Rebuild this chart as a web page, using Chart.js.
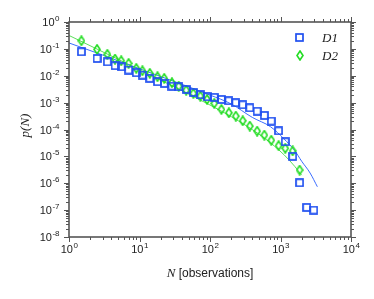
<!DOCTYPE html>
<html>
<head>
<meta charset="utf-8">
<script src="https://cdn.jsdelivr.net/npm/chart.js@4.4.1/dist/chart.umd.min.js"></script>
<style>
  html, body { margin: 0; padding: 0; background: #ffffff; }
  #wrap { width: 374px; height: 299px; }
</style>
</head>
<body>
<div id="wrap"><canvas id="chart" width="374" height="299"></canvas></div>
<script>
// binned observation counts (log bins)
const binN = [1.5, 2.5, 3.5, 4.5, 5.5, 7, 9, 11, 14, 18, 22.4, 28.8, 36, 46, 58, 73, 91, 115,
  145, 185, 232, 291, 367, 467, 590, 740, 940, 1170, 1486, 1865, 2350, 2960];

const d1P = [0.078, 0.044, 0.033, 0.0236, 0.0216, 0.0163, 0.0129, 0.0106, 0.008, 0.006,
  0.0052, 0.0041, 0.0039, 0.0031, 0.0024, 0.00196, 0.00165, 0.00157, 0.00132, 0.00117,
  0.00099, 0.00083, 0.00064, 0.00048, 0.000335, 0.000206, 8.9e-5, 3.5e-5, 1.0e-5,
  1.04e-6, 1.26e-7, 1.0e-7];

const d2P = [0.2, 0.096, 0.063, 0.042, 0.036, 0.029, 0.0189, 0.0153, 0.0123, 0.0092,
  0.008, 0.0055, 0.0041, 0.0029, 0.0022, 0.00175, 0.00132, 0.00094, 0.00056, 0.00042,
  0.000315, 0.000211, 0.000134, 8.7e-5, 6.2e-5, 4.0e-5, 2.5e-5, 2.0e-5, 1.6e-5, 3.1e-6];

// fitted curves
const fit1N = [1, 3.16, 10, 31.6, 100, 200, 398, 724, 1122, 1585, 1995, 2630, 3334];
const fit1P = [0.166, 0.0562, 0.0182, 0.00603, 0.00191, 0.000891, 0.000282, 0.000126,
  4.47e-5, 1.66e-5, 6.6e-6, 2.4e-6, 7.4e-7];

const fit2N = [1, 3.16, 10, 31.6, 100, 200, 398, 708, 1122, 1585, 1995];
const fit2P = [0.316, 0.073, 0.0168, 0.00379, 0.000813, 0.000301, 9.93e-5, 3.33e-5,
  1.15e-5, 4.3e-6, 2.0e-6];

const xExponents = [0, 1, 2, 3, 4];
const yExponents = [0, -1, -2, -3, -4, -5, -6, -7, -8];
const legendLabels = ["D1", "D2"];

const COLORS = {
  blue: "#1f4ff0",
  green: "#22dd22",
  blueLine: "#3a6cff",
  greenLine: "#5ade5a",
  frame: "#555555",
  text: "#222222"
};

function toPoints(xs, ys) {
  return ys.map(function (y, i) {
    return { x: xs[i], y: y };
  });
}

function makeSquare() {
  const c = document.createElement("canvas");
  c.width = 9;
  c.height = 9;
  const g = c.getContext("2d");
  g.strokeStyle = COLORS.blue;
  g.lineWidth = 1.7;
  g.strokeRect(1, 1, 7, 7);
  return c;
}

function makeDiamond() {
  const c = document.createElement("canvas");
  c.width = 8;
  c.height = 11;
  const g = c.getContext("2d");
  g.strokeStyle = COLORS.green;
  g.lineWidth = 1.6;
  g.beginPath();
  g.moveTo(4, 1);
  g.lineTo(7, 5.5);
  g.lineTo(4, 10);
  g.lineTo(1, 5.5);
  g.closePath();
  g.stroke();
  return c;
}

const squareMarker = makeSquare();
const diamondMarker = makeDiamond();

function minorValues(fromExp, toExp) {
  const vals = [];
  for (let k = fromExp; k < toExp; k++) {
    for (let m = 2; m <= 9; m++) {
      vals.push(m * Math.pow(10, k));
    }
  }
  return vals;
}

function drawPowerLabel(ctx, exp, x, y, align) {
  const base = "10";
  const sup = String(exp);
  ctx.font = "11px 'Liberation Sans', Arial, sans-serif";
  const wb = ctx.measureText(base).width;
  ctx.font = "8px 'Liberation Sans', Arial, sans-serif";
  const ws = ctx.measureText(sup).width;
  let left;
  if (align === "center") {
    left = x - (wb + ws) / 2;
  } else {
    left = x - (wb + ws);
  }
  ctx.textAlign = "left";
  ctx.textBaseline = "alphabetic";
  ctx.font = "11px 'Liberation Sans', Arial, sans-serif";
  ctx.fillText(base, left, y);
  ctx.font = "8px 'Liberation Sans', Arial, sans-serif";
  ctx.fillText(sup, left + wb + 0.5, y - 5);
}

const framePlugin = {
  id: "frame",
  afterDatasetsDraw: function (chart) {
    const ctx = chart.ctx;
    const area = chart.chartArea;
    const xs = chart.scales.x;
    const ys = chart.scales.y;

    ctx.save();
    ctx.strokeStyle = COLORS.frame;
    ctx.lineWidth = 1;

    // ticks on all four sides, pointing outward
    function tickX(v, len) {
      const px = Math.round(xs.getPixelForValue(v)) + 0.5;
      ctx.beginPath();
      ctx.moveTo(px, area.bottom);
      ctx.lineTo(px, area.bottom + len);
      ctx.moveTo(px, area.top);
      ctx.lineTo(px, area.top - len);
      ctx.stroke();
    }
    function tickY(v, len) {
      const py = Math.round(ys.getPixelForValue(v)) + 0.5;
      ctx.beginPath();
      ctx.moveTo(area.left, py);
      ctx.lineTo(area.left - len, py);
      ctx.moveTo(area.right, py);
      ctx.lineTo(area.right + len, py);
      ctx.stroke();
    }
    minorValues(0, 4).forEach(function (v) { tickX(v, 3); });
    xExponents.forEach(function (e) { tickX(Math.pow(10, e), 5); });
    minorValues(-8, 0).forEach(function (v) { tickY(v, 3); });
    yExponents.forEach(function (e) { tickY(Math.pow(10, e), 5); });

    // frame
    ctx.lineWidth = 1.6;
    ctx.strokeRect(area.left, area.top, area.right - area.left, area.bottom - area.top);

    // tick labels
    ctx.fillStyle = COLORS.text;
    xExponents.forEach(function (e) {
      drawPowerLabel(ctx, e, xs.getPixelForValue(Math.pow(10, e)), area.bottom + 16, "center");
    });
    yExponents.forEach(function (e) {
      drawPowerLabel(ctx, e, area.left - 10, ys.getPixelForValue(Math.pow(10, e)) + 4, "right");
    });

    // x axis title: italic N + [observations]
    ctx.textAlign = "left";
    ctx.font = "italic 13px 'Liberation Serif', 'Times New Roman', serif";
    const nW = ctx.measureText("N").width;
    ctx.font = "12px 'Liberation Sans', Arial, sans-serif";
    const oW = ctx.measureText(" [observations]").width;
    const titleLeft = (area.left + area.right) / 2 - (nW + oW) / 2;
    ctx.font = "italic 13px 'Liberation Serif', 'Times New Roman', serif";
    ctx.fillText("N", titleLeft, 277);
    ctx.font = "12px 'Liberation Sans', Arial, sans-serif";
    ctx.fillText(" [observations]", titleLeft + nW, 277);

    // y axis title
    ctx.save();
    ctx.translate(29, (area.top + area.bottom) / 2 - 4);
    ctx.rotate(-Math.PI / 2);
    ctx.textAlign = "center";
    ctx.font = "italic 13px 'Liberation Serif', 'Times New Roman', serif";
    ctx.fillText("p(N)", 0, 0);
    ctx.restore();

    // legend
    const markers = [squareMarker, diamondMarker];
    legendLabels.forEach(function (label, i) {
      const cy = 37.5 + i * 17.5;
      const m = markers[i];
      ctx.drawImage(m, Math.round(299.5 - m.width / 2), Math.round(cy - m.height / 2));
      ctx.font = "italic 13px 'Liberation Serif', 'Times New Roman', serif";
      ctx.textAlign = "left";
      ctx.fillStyle = COLORS.text;
      ctx.fillText(label, 322, cy + 4.5);
    });

    ctx.restore();
  }
};

new Chart(document.getElementById("chart"), {
  type: "scatter",
  data: {
    datasets: [
      {
        label: legendLabels[0],
        data: toPoints(binN, d1P),
        pointStyle: squareMarker,
        order: 1
      },
      {
        label: legendLabels[1],
        data: toPoints(binN, d2P),
        pointStyle: diamondMarker,
        order: 1
      },
      {
        label: "fit D1",
        data: toPoints(fit1N, fit1P),
        showLine: true,
        pointRadius: 0,
        borderColor: COLORS.blueLine,
        borderWidth: 1,
        cubicInterpolationMode: "monotone",
        order: 2
      },
      {
        label: "fit D2",
        data: toPoints(fit2N, fit2P),
        showLine: true,
        pointRadius: 0,
        borderColor: COLORS.greenLine,
        borderWidth: 1,
        cubicInterpolationMode: "monotone",
        order: 2
      }
    ]
  },
  options: {
    responsive: false,
    devicePixelRatio: 1,
    animation: false,
    events: [],
    layout: {
      padding: { left: 69, right: 23, top: 22, bottom: 62 }
    },
    plugins: {
      legend: { display: false },
      tooltip: { enabled: false }
    },
    scales: {
      x: {
        type: "logarithmic",
        min: 1,
        max: 10000,
        display: false
      },
      y: {
        type: "logarithmic",
        min: 1e-8,
        max: 1,
        display: false
      }
    }
  },
  plugins: [framePlugin]
});
</script>
</body>
</html>
